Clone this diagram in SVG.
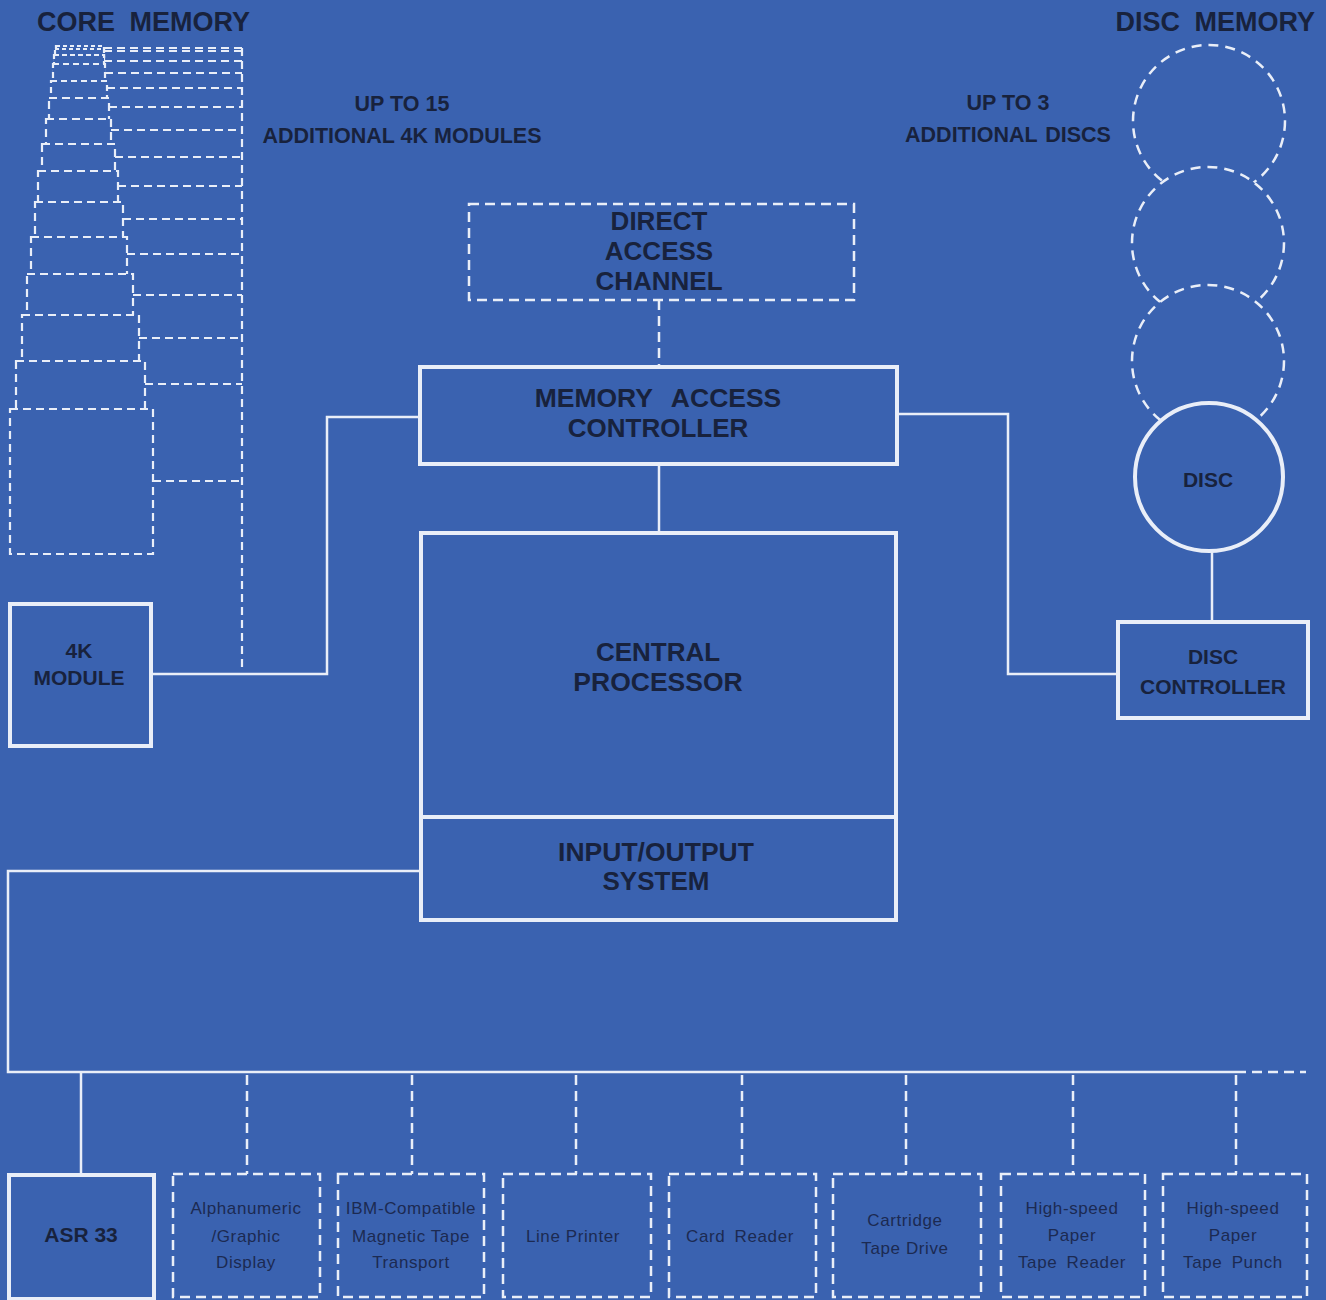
<svg xmlns="http://www.w3.org/2000/svg" width="1326" height="1300" viewBox="0 0 1326 1300">
<style>
.bg{fill:#3a62b0}
.solid{fill:none;stroke:#e9eef8;stroke-width:4}
.conn{fill:none;stroke:#e9eef8;stroke-width:2.5}
.dconn{fill:none;stroke:#e9eef8;stroke-width:2.5;stroke-dasharray:10 6}
.dbox{fill:none;stroke:#e9eef8;stroke-width:2.5;stroke-dasharray:10 6}
.core{fill:#3a62b0;stroke:#e9eef8;stroke-width:2.2;stroke-dasharray:8 5}
.coreline{fill:none;stroke:#e9eef8;stroke-width:2.2;stroke-dasharray:8 5}
.disk{fill:#3a62b0;stroke:#e9eef8;stroke-width:2.5;stroke-dasharray:10 7}
.lbl{font-family:"Liberation Sans",Arial,sans-serif;font-weight:bold;fill:#18223d;text-anchor:middle}
.big{font-size:26px}
.head{font-size:27px}
.med{font-size:21px}
.note{font-size:21.5px}
.dev{font-family:"Liberation Sans",Arial,sans-serif;font-size:17px;fill:#1c2a52;text-anchor:middle;letter-spacing:0.6px}
</style>
<rect class="bg" x="0" y="0" width="1326" height="1300"/>

<g id="connectors">
  <line class="coreline" x1="242" y1="48" x2="242" y2="668"/>
  <polyline class="conn" points="152,674 327,674 327,417 420,417"/>
  <line class="dconn" x1="659" y1="300" x2="659" y2="366"/>
  <line class="conn" x1="659" y1="465" x2="659" y2="533"/>
  <polyline class="conn" points="897,414 1008,414 1008,674 1118,674"/>
  <line class="conn" x1="1212" y1="551" x2="1212" y2="622"/>
  <polyline class="conn" points="420,871 8,871 8,1072 1236,1072"/>
  <line class="dconn" x1="1236" y1="1072" x2="1306" y2="1072"/>
  <line class="conn" x1="81" y1="1072" x2="81" y2="1175"/>
  <line class="dconn" x1="247" y1="1075" x2="247" y2="1174"/>
  <line class="dconn" x1="412" y1="1075" x2="412" y2="1174"/>
  <line class="dconn" x1="576" y1="1075" x2="576" y2="1174"/>
  <line class="dconn" x1="742" y1="1075" x2="742" y2="1174"/>
  <line class="dconn" x1="906" y1="1075" x2="906" y2="1174"/>
  <line class="dconn" x1="1073" y1="1075" x2="1073" y2="1174"/>
  <line class="dconn" x1="1236" y1="1075" x2="1236" y2="1174"/>
</g>

<g id="core-memory">
  <text class="lbl head" x="37" y="31" style="text-anchor:start" word-spacing="7">CORE MEMORY</text>
  <line class="coreline" x1="104" y1="48" x2="242" y2="48"/>
  <rect class="core" x="56" y="46" width="48" height="20" style="stroke-dasharray:4 3"/>
  <line class="coreline" x1="104" y1="51" x2="242" y2="51"/>
  <rect class="core" x="55" y="49" width="49" height="20" style="stroke-dasharray:4 3"/>
  <line class="coreline" x1="104" y1="61" x2="242" y2="61"/>
  <rect class="core" x="54" y="55" width="50" height="20" style="stroke-dasharray:5 3"/>
  <line class="coreline" x1="105" y1="73" x2="242" y2="73"/>
  <rect class="core" x="53" y="64" width="52" height="25" style="stroke-dasharray:6 4"/>
  <line class="coreline" x1="107" y1="88" x2="242" y2="88"/>
  <rect class="core" x="51" y="81" width="56" height="25" style="stroke-dasharray:6 4"/>
  <line class="coreline" x1="109" y1="107" x2="242" y2="107"/>
  <rect class="core" x="49" y="98" width="60" height="30"/>
  <line class="coreline" x1="111" y1="130" x2="242" y2="130"/>
  <rect class="core" x="46" y="119" width="65" height="35"/>
  <line class="coreline" x1="115" y1="157" x2="242" y2="157"/>
  <rect class="core" x="42" y="144" width="73" height="35"/>
  <line class="coreline" x1="118" y1="186" x2="242" y2="186"/>
  <rect class="core" x="38" y="171" width="80" height="40"/>
  <line class="coreline" x1="123" y1="219" x2="242" y2="219"/>
  <rect class="core" x="35" y="202" width="88" height="45"/>
  <line class="coreline" x1="127" y1="254" x2="242" y2="254"/>
  <rect class="core" x="31" y="237" width="96" height="50"/>
  <line class="coreline" x1="133" y1="295" x2="242" y2="295"/>
  <rect class="core" x="27" y="274" width="106" height="55"/>
  <line class="coreline" x1="139" y1="338" x2="242" y2="338"/>
  <rect class="core" x="22" y="315" width="117" height="60"/>
  <line class="coreline" x1="145" y1="384" x2="242" y2="384"/>
  <rect class="core" x="16" y="361" width="129" height="70"/>
  <line class="coreline" x1="153" y1="481" x2="242" y2="481"/>
  <rect class="core" x="10" y="409" width="143" height="145"/>
  <text class="lbl note" x="402" y="111">UP TO 15</text>
  <text class="lbl note" x="402" y="143">ADDITIONAL 4K MODULES</text>
</g>

<g id="module-4k">
  <rect class="solid" x="10" y="604" width="141" height="142"/>
  <text class="lbl med" x="79" y="658">4K</text>
  <text class="lbl med" x="79" y="685">MODULE</text>
</g>

<g id="direct-access-channel">
  <rect class="dbox" x="469" y="204" width="385" height="96"/>
  <text class="lbl big" x="659" y="230">DIRECT</text>
  <text class="lbl big" x="659" y="260">ACCESS</text>
  <text class="lbl big" x="659" y="290">CHANNEL</text>
</g>

<g id="memory-access-controller">
  <rect class="solid" x="420" y="367" width="477" height="97"/>
  <text class="lbl big" x="658" y="407" word-spacing="12" style="font-size:26.5px">MEMORY ACCESS</text>
  <text class="lbl big" x="658" y="437">CONTROLLER</text>
</g>

<g id="central-processor">
  <rect class="solid" x="421" y="533" width="475" height="284"/>
  <text class="lbl big" x="658" y="661">CENTRAL</text>
  <text class="lbl big" x="658" y="691" style="font-size:26.5px">PROCESSOR</text>
</g>

<g id="io-system">
  <rect class="solid" x="421" y="817" width="475" height="103"/>
  <text class="lbl big" x="656" y="861" style="font-size:26.5px">INPUT/OUTPUT</text>
  <text class="lbl big" x="656" y="890">SYSTEM</text>
</g>

<g id="disc-memory">
  <text class="lbl head" x="1315" y="31" style="text-anchor:end" word-spacing="7">DISC MEMORY</text>
  <text class="lbl note" x="1008" y="110">UP TO 3</text>
  <text class="lbl note" x="1008" y="142" word-spacing="2">ADDITIONAL DISCS</text>
  <circle class="disk" cx="1209" cy="121" r="76"/>
  <circle class="disk" cx="1208" cy="243" r="76"/>
  <circle class="disk" cx="1208" cy="361" r="76"/>
</g>

<g id="disc">
  <circle class="bg" cx="1209" cy="477" r="74" style="stroke:#e9eef8;stroke-width:4"/>
  <text class="lbl med" x="1208" y="487">DISC</text>
</g>

<g id="disc-controller">
  <rect class="solid" x="1118" y="622" width="190" height="96"/>
  <text class="lbl med" x="1213" y="664">DISC</text>
  <text class="lbl med" x="1213" y="694">CONTROLLER</text>
</g>

<g id="asr33">
  <rect class="solid" x="9" y="1175" width="145" height="124"/>
  <text class="lbl med" x="81" y="1242">ASR 33</text>
</g>

<g id="alphanumeric-display">
  <rect class="dbox" x="173" y="1174" width="147" height="123"/>
  <text class="dev" x="246" y="1214">Alphanumeric</text>
  <text class="dev" x="246" y="1242">/Graphic</text>
  <text class="dev" x="246" y="1268">Display</text>
</g>

<g id="magnetic-tape">
  <rect class="dbox" x="338" y="1174" width="146" height="123"/>
  <text class="dev" x="411" y="1214">IBM-Compatible</text>
  <text class="dev" x="411" y="1242">Magnetic Tape</text>
  <text class="dev" x="411" y="1268">Transport</text>
</g>

<g id="line-printer">
  <rect class="dbox" x="503" y="1174" width="148" height="123"/>
  <text class="dev" x="573" y="1242">Line Printer</text>
</g>

<g id="card-reader">
  <rect class="dbox" x="669" y="1174" width="147" height="123"/>
  <text class="dev" x="740" y="1242" word-spacing="4">Card Reader</text>
</g>

<g id="cartridge-tape">
  <rect class="dbox" x="833" y="1174" width="148" height="123"/>
  <text class="dev" x="905" y="1226">Cartridge</text>
  <text class="dev" x="905" y="1254">Tape Drive</text>
</g>

<g id="tape-reader">
  <rect class="dbox" x="1001" y="1174" width="144" height="123"/>
  <text class="dev" x="1072" y="1214">High-speed</text>
  <text class="dev" x="1072" y="1241">Paper</text>
  <text class="dev" x="1072" y="1268" word-spacing="4">Tape Reader</text>
</g>

<g id="tape-punch">
  <rect class="dbox" x="1163" y="1174" width="144" height="123"/>
  <text class="dev" x="1233" y="1214">High-speed</text>
  <text class="dev" x="1233" y="1241">Paper</text>
  <text class="dev" x="1233" y="1268" word-spacing="4">Tape Punch</text>
</g>
</svg>
